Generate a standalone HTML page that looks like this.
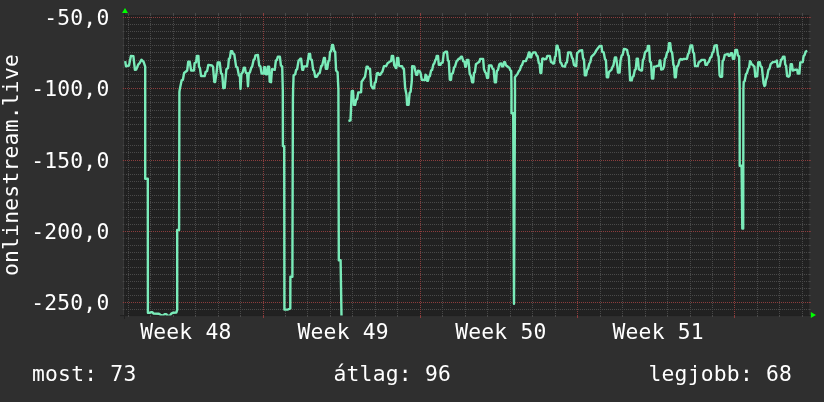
<!DOCTYPE html>
<html><head><meta charset="utf-8"><title>onlinestream.live</title>
<style>
html,body{margin:0;padding:0;background:#2f2f2f;}
body{width:824px;height:402px;overflow:hidden;}
svg{display:block}
text{font-family:"DejaVu Sans Mono","Liberation Mono",monospace;font-size:21.33px;letter-spacing:0.22px;fill:#ffffff;}
</style></head><body>
<svg width="824" height="402" viewBox="0 0 824 402">
<rect x="0" y="0" width="824" height="402" fill="#2f2f2f"/>
<rect x="124" y="15.1" width="685.2" height="300.4" fill="#212121"/>

<line x1="123.6" y1="15" x2="123.6" y2="315" stroke="#3a3a3a" stroke-width="1.1"/>
<line x1="120" y1="315.6" x2="812" y2="315.6" stroke="#212121" stroke-width="1"/>
<line x1="124.5" y1="319" x2="124.5" y2="12" stroke="#212121" stroke-width="1"/>
<g stroke="#494949" stroke-width="1" shape-rendering="crispEdges">
<line x1="122.7" y1="24.5" x2="124.4" y2="24.5" shape-rendering="auto"/><line x1="126" y1="24.5" x2="807" y2="24.5" stroke-dasharray="1 1"/><line x1="808.4" y1="24.5" x2="810.7" y2="24.5" shape-rendering="auto"/>
<line x1="122.7" y1="31.5" x2="124.4" y2="31.5" shape-rendering="auto"/><line x1="126" y1="31.5" x2="807" y2="31.5" stroke-dasharray="1 1"/><line x1="808.4" y1="31.5" x2="810.7" y2="31.5" shape-rendering="auto"/>
<line x1="122.7" y1="38.5" x2="124.4" y2="38.5" shape-rendering="auto"/><line x1="126" y1="38.5" x2="807" y2="38.5" stroke-dasharray="1 1"/><line x1="808.4" y1="38.5" x2="810.7" y2="38.5" shape-rendering="auto"/>
<line x1="122.7" y1="45.5" x2="124.4" y2="45.5" shape-rendering="auto"/><line x1="126" y1="45.5" x2="807" y2="45.5" stroke-dasharray="1 1"/><line x1="808.4" y1="45.5" x2="810.7" y2="45.5" shape-rendering="auto"/>
<line x1="122.7" y1="52.5" x2="124.4" y2="52.5" shape-rendering="auto"/><line x1="126" y1="52.5" x2="807" y2="52.5" stroke-dasharray="1 1"/><line x1="808.4" y1="52.5" x2="810.7" y2="52.5" shape-rendering="auto"/>
<line x1="122.7" y1="60.5" x2="124.4" y2="60.5" shape-rendering="auto"/><line x1="126" y1="60.5" x2="807" y2="60.5" stroke-dasharray="1 1"/><line x1="808.4" y1="60.5" x2="810.7" y2="60.5" shape-rendering="auto"/>
<line x1="122.7" y1="67.5" x2="124.4" y2="67.5" shape-rendering="auto"/><line x1="126" y1="67.5" x2="807" y2="67.5" stroke-dasharray="1 1"/><line x1="808.4" y1="67.5" x2="810.7" y2="67.5" shape-rendering="auto"/>
<line x1="122.7" y1="74.5" x2="124.4" y2="74.5" shape-rendering="auto"/><line x1="126" y1="74.5" x2="807" y2="74.5" stroke-dasharray="1 1"/><line x1="808.4" y1="74.5" x2="810.7" y2="74.5" shape-rendering="auto"/>
<line x1="122.7" y1="81.5" x2="124.4" y2="81.5" shape-rendering="auto"/><line x1="126" y1="81.5" x2="807" y2="81.5" stroke-dasharray="1 1"/><line x1="808.4" y1="81.5" x2="810.7" y2="81.5" shape-rendering="auto"/>
<line x1="122.7" y1="95.5" x2="124.4" y2="95.5" shape-rendering="auto"/><line x1="126" y1="95.5" x2="807" y2="95.5" stroke-dasharray="1 1"/><line x1="808.4" y1="95.5" x2="810.7" y2="95.5" shape-rendering="auto"/>
<line x1="122.7" y1="102.5" x2="124.4" y2="102.5" shape-rendering="auto"/><line x1="126" y1="102.5" x2="807" y2="102.5" stroke-dasharray="1 1"/><line x1="808.4" y1="102.5" x2="810.7" y2="102.5" shape-rendering="auto"/>
<line x1="122.7" y1="110.5" x2="124.4" y2="110.5" shape-rendering="auto"/><line x1="126" y1="110.5" x2="807" y2="110.5" stroke-dasharray="1 1"/><line x1="808.4" y1="110.5" x2="810.7" y2="110.5" shape-rendering="auto"/>
<line x1="122.7" y1="117.5" x2="124.4" y2="117.5" shape-rendering="auto"/><line x1="126" y1="117.5" x2="807" y2="117.5" stroke-dasharray="1 1"/><line x1="808.4" y1="117.5" x2="810.7" y2="117.5" shape-rendering="auto"/>
<line x1="122.7" y1="124.5" x2="124.4" y2="124.5" shape-rendering="auto"/><line x1="126" y1="124.5" x2="807" y2="124.5" stroke-dasharray="1 1"/><line x1="808.4" y1="124.5" x2="810.7" y2="124.5" shape-rendering="auto"/>
<line x1="122.7" y1="131.5" x2="124.4" y2="131.5" shape-rendering="auto"/><line x1="126" y1="131.5" x2="807" y2="131.5" stroke-dasharray="1 1"/><line x1="808.4" y1="131.5" x2="810.7" y2="131.5" shape-rendering="auto"/>
<line x1="122.7" y1="138.5" x2="124.4" y2="138.5" shape-rendering="auto"/><line x1="126" y1="138.5" x2="807" y2="138.5" stroke-dasharray="1 1"/><line x1="808.4" y1="138.5" x2="810.7" y2="138.5" shape-rendering="auto"/>
<line x1="122.7" y1="145.5" x2="124.4" y2="145.5" shape-rendering="auto"/><line x1="126" y1="145.5" x2="807" y2="145.5" stroke-dasharray="1 1"/><line x1="808.4" y1="145.5" x2="810.7" y2="145.5" shape-rendering="auto"/>
<line x1="122.7" y1="152.5" x2="124.4" y2="152.5" shape-rendering="auto"/><line x1="126" y1="152.5" x2="807" y2="152.5" stroke-dasharray="1 1"/><line x1="808.4" y1="152.5" x2="810.7" y2="152.5" shape-rendering="auto"/>
<line x1="122.7" y1="167.5" x2="124.4" y2="167.5" shape-rendering="auto"/><line x1="126" y1="167.5" x2="807" y2="167.5" stroke-dasharray="1 1"/><line x1="808.4" y1="167.5" x2="810.7" y2="167.5" shape-rendering="auto"/>
<line x1="122.7" y1="174.5" x2="124.4" y2="174.5" shape-rendering="auto"/><line x1="126" y1="174.5" x2="807" y2="174.5" stroke-dasharray="1 1"/><line x1="808.4" y1="174.5" x2="810.7" y2="174.5" shape-rendering="auto"/>
<line x1="122.7" y1="181.5" x2="124.4" y2="181.5" shape-rendering="auto"/><line x1="126" y1="181.5" x2="807" y2="181.5" stroke-dasharray="1 1"/><line x1="808.4" y1="181.5" x2="810.7" y2="181.5" shape-rendering="auto"/>
<line x1="122.7" y1="188.5" x2="124.4" y2="188.5" shape-rendering="auto"/><line x1="126" y1="188.5" x2="807" y2="188.5" stroke-dasharray="1 1"/><line x1="808.4" y1="188.5" x2="810.7" y2="188.5" shape-rendering="auto"/>
<line x1="122.7" y1="195.5" x2="124.4" y2="195.5" shape-rendering="auto"/><line x1="126" y1="195.5" x2="807" y2="195.5" stroke-dasharray="1 1"/><line x1="808.4" y1="195.5" x2="810.7" y2="195.5" shape-rendering="auto"/>
<line x1="122.7" y1="202.5" x2="124.4" y2="202.5" shape-rendering="auto"/><line x1="126" y1="202.5" x2="807" y2="202.5" stroke-dasharray="1 1"/><line x1="808.4" y1="202.5" x2="810.7" y2="202.5" shape-rendering="auto"/>
<line x1="122.7" y1="209.5" x2="124.4" y2="209.5" shape-rendering="auto"/><line x1="126" y1="209.5" x2="807" y2="209.5" stroke-dasharray="1 1"/><line x1="808.4" y1="209.5" x2="810.7" y2="209.5" shape-rendering="auto"/>
<line x1="122.7" y1="217.5" x2="124.4" y2="217.5" shape-rendering="auto"/><line x1="126" y1="217.5" x2="807" y2="217.5" stroke-dasharray="1 1"/><line x1="808.4" y1="217.5" x2="810.7" y2="217.5" shape-rendering="auto"/>
<line x1="122.7" y1="224.5" x2="124.4" y2="224.5" shape-rendering="auto"/><line x1="126" y1="224.5" x2="807" y2="224.5" stroke-dasharray="1 1"/><line x1="808.4" y1="224.5" x2="810.7" y2="224.5" shape-rendering="auto"/>
<line x1="122.7" y1="238.5" x2="124.4" y2="238.5" shape-rendering="auto"/><line x1="126" y1="238.5" x2="807" y2="238.5" stroke-dasharray="1 1"/><line x1="808.4" y1="238.5" x2="810.7" y2="238.5" shape-rendering="auto"/>
<line x1="122.7" y1="245.5" x2="124.4" y2="245.5" shape-rendering="auto"/><line x1="126" y1="245.5" x2="807" y2="245.5" stroke-dasharray="1 1"/><line x1="808.4" y1="245.5" x2="810.7" y2="245.5" shape-rendering="auto"/>
<line x1="122.7" y1="252.5" x2="124.4" y2="252.5" shape-rendering="auto"/><line x1="126" y1="252.5" x2="807" y2="252.5" stroke-dasharray="1 1"/><line x1="808.4" y1="252.5" x2="810.7" y2="252.5" shape-rendering="auto"/>
<line x1="122.7" y1="259.5" x2="124.4" y2="259.5" shape-rendering="auto"/><line x1="126" y1="259.5" x2="807" y2="259.5" stroke-dasharray="1 1"/><line x1="808.4" y1="259.5" x2="810.7" y2="259.5" shape-rendering="auto"/>
<line x1="122.7" y1="267.5" x2="124.4" y2="267.5" shape-rendering="auto"/><line x1="126" y1="267.5" x2="807" y2="267.5" stroke-dasharray="1 1"/><line x1="808.4" y1="267.5" x2="810.7" y2="267.5" shape-rendering="auto"/>
<line x1="122.7" y1="274.5" x2="124.4" y2="274.5" shape-rendering="auto"/><line x1="126" y1="274.5" x2="807" y2="274.5" stroke-dasharray="1 1"/><line x1="808.4" y1="274.5" x2="810.7" y2="274.5" shape-rendering="auto"/>
<line x1="122.7" y1="281.5" x2="124.4" y2="281.5" shape-rendering="auto"/><line x1="126" y1="281.5" x2="807" y2="281.5" stroke-dasharray="1 1"/><line x1="808.4" y1="281.5" x2="810.7" y2="281.5" shape-rendering="auto"/>
<line x1="122.7" y1="288.5" x2="124.4" y2="288.5" shape-rendering="auto"/><line x1="126" y1="288.5" x2="807" y2="288.5" stroke-dasharray="1 1"/><line x1="808.4" y1="288.5" x2="810.7" y2="288.5" shape-rendering="auto"/>
<line x1="122.7" y1="295.5" x2="124.4" y2="295.5" shape-rendering="auto"/><line x1="126" y1="295.5" x2="807" y2="295.5" stroke-dasharray="1 1"/><line x1="808.4" y1="295.5" x2="810.7" y2="295.5" shape-rendering="auto"/>
<line x1="122.7" y1="309.5" x2="124.4" y2="309.5" shape-rendering="auto"/><line x1="126" y1="309.5" x2="807" y2="309.5" stroke-dasharray="1 1"/><line x1="808.4" y1="309.5" x2="810.7" y2="309.5" shape-rendering="auto"/>
<line x1="128.5" y1="13" x2="128.5" y2="16"/><line x1="128.5" y1="17" x2="128.5" y2="315" stroke-dasharray="1 1"/><line x1="128.5" y1="315" x2="128.5" y2="317"/>
<line x1="150.5" y1="13" x2="150.5" y2="16"/><line x1="150.5" y1="17" x2="150.5" y2="315" stroke-dasharray="1 1"/><line x1="150.5" y1="315" x2="150.5" y2="317"/>
<line x1="173.5" y1="13" x2="173.5" y2="16"/><line x1="173.5" y1="17" x2="173.5" y2="315" stroke-dasharray="1 1"/><line x1="173.5" y1="315" x2="173.5" y2="317"/>
<line x1="195.5" y1="13" x2="195.5" y2="16"/><line x1="195.5" y1="17" x2="195.5" y2="315" stroke-dasharray="1 1"/><line x1="195.5" y1="315" x2="195.5" y2="317"/>
<line x1="218.5" y1="13" x2="218.5" y2="16"/><line x1="218.5" y1="17" x2="218.5" y2="315" stroke-dasharray="1 1"/><line x1="218.5" y1="315" x2="218.5" y2="317"/>
<line x1="240.5" y1="13" x2="240.5" y2="16"/><line x1="240.5" y1="17" x2="240.5" y2="315" stroke-dasharray="1 1"/><line x1="240.5" y1="315" x2="240.5" y2="317"/>
<line x1="285.5" y1="13" x2="285.5" y2="16"/><line x1="285.5" y1="17" x2="285.5" y2="315" stroke-dasharray="1 1"/><line x1="285.5" y1="315" x2="285.5" y2="317"/>
<line x1="307.5" y1="13" x2="307.5" y2="16"/><line x1="307.5" y1="17" x2="307.5" y2="315" stroke-dasharray="1 1"/><line x1="307.5" y1="315" x2="307.5" y2="317"/>
<line x1="330.5" y1="13" x2="330.5" y2="16"/><line x1="330.5" y1="17" x2="330.5" y2="315" stroke-dasharray="1 1"/><line x1="330.5" y1="315" x2="330.5" y2="317"/>
<line x1="352.5" y1="13" x2="352.5" y2="16"/><line x1="352.5" y1="17" x2="352.5" y2="315" stroke-dasharray="1 1"/><line x1="352.5" y1="315" x2="352.5" y2="317"/>
<line x1="375.5" y1="13" x2="375.5" y2="16"/><line x1="375.5" y1="17" x2="375.5" y2="315" stroke-dasharray="1 1"/><line x1="375.5" y1="315" x2="375.5" y2="317"/>
<line x1="397.5" y1="13" x2="397.5" y2="16"/><line x1="397.5" y1="17" x2="397.5" y2="315" stroke-dasharray="1 1"/><line x1="397.5" y1="315" x2="397.5" y2="317"/>
<line x1="442.5" y1="13" x2="442.5" y2="16"/><line x1="442.5" y1="17" x2="442.5" y2="315" stroke-dasharray="1 1"/><line x1="442.5" y1="315" x2="442.5" y2="317"/>
<line x1="465.5" y1="13" x2="465.5" y2="16"/><line x1="465.5" y1="17" x2="465.5" y2="315" stroke-dasharray="1 1"/><line x1="465.5" y1="315" x2="465.5" y2="317"/>
<line x1="487.5" y1="13" x2="487.5" y2="16"/><line x1="487.5" y1="17" x2="487.5" y2="315" stroke-dasharray="1 1"/><line x1="487.5" y1="315" x2="487.5" y2="317"/>
<line x1="510.5" y1="13" x2="510.5" y2="16"/><line x1="510.5" y1="17" x2="510.5" y2="315" stroke-dasharray="1 1"/><line x1="510.5" y1="315" x2="510.5" y2="317"/>
<line x1="532.5" y1="13" x2="532.5" y2="16"/><line x1="532.5" y1="17" x2="532.5" y2="315" stroke-dasharray="1 1"/><line x1="532.5" y1="315" x2="532.5" y2="317"/>
<line x1="555.5" y1="13" x2="555.5" y2="16"/><line x1="555.5" y1="17" x2="555.5" y2="315" stroke-dasharray="1 1"/><line x1="555.5" y1="315" x2="555.5" y2="317"/>
<line x1="600.5" y1="13" x2="600.5" y2="16"/><line x1="600.5" y1="17" x2="600.5" y2="315" stroke-dasharray="1 1"/><line x1="600.5" y1="315" x2="600.5" y2="317"/>
<line x1="622.5" y1="13" x2="622.5" y2="16"/><line x1="622.5" y1="17" x2="622.5" y2="315" stroke-dasharray="1 1"/><line x1="622.5" y1="315" x2="622.5" y2="317"/>
<line x1="645.5" y1="13" x2="645.5" y2="16"/><line x1="645.5" y1="17" x2="645.5" y2="315" stroke-dasharray="1 1"/><line x1="645.5" y1="315" x2="645.5" y2="317"/>
<line x1="667.5" y1="13" x2="667.5" y2="16"/><line x1="667.5" y1="17" x2="667.5" y2="315" stroke-dasharray="1 1"/><line x1="667.5" y1="315" x2="667.5" y2="317"/>
<line x1="690.5" y1="13" x2="690.5" y2="16"/><line x1="690.5" y1="17" x2="690.5" y2="315" stroke-dasharray="1 1"/><line x1="690.5" y1="315" x2="690.5" y2="317"/>
<line x1="712.5" y1="13" x2="712.5" y2="16"/><line x1="712.5" y1="17" x2="712.5" y2="315" stroke-dasharray="1 1"/><line x1="712.5" y1="315" x2="712.5" y2="317"/>
<line x1="757.5" y1="13" x2="757.5" y2="16"/><line x1="757.5" y1="17" x2="757.5" y2="315" stroke-dasharray="1 1"/><line x1="757.5" y1="315" x2="757.5" y2="317"/>
<line x1="779.5" y1="13" x2="779.5" y2="16"/><line x1="779.5" y1="17" x2="779.5" y2="315" stroke-dasharray="1 1"/><line x1="779.5" y1="315" x2="779.5" y2="317"/>
<line x1="802.5" y1="13" x2="802.5" y2="16"/><line x1="802.5" y1="17" x2="802.5" y2="315" stroke-dasharray="1 1"/><line x1="802.5" y1="315" x2="802.5" y2="317"/>
</g>
<g stroke="#8c3d3d" stroke-width="1" shape-rendering="crispEdges">
<line x1="123" y1="17.5" x2="808" y2="17.5" stroke-dasharray="1 1"/><line x1="122.8" y1="17.5" x2="124.2" y2="17.5" shape-rendering="auto" stroke-opacity="0.6"/><line x1="808.8" y1="17.5" x2="810.8" y2="17.5" shape-rendering="auto"/>
<line x1="123" y1="88.5" x2="808" y2="88.5" stroke-dasharray="1 1"/><line x1="122.8" y1="88.5" x2="124.2" y2="88.5" shape-rendering="auto" stroke-opacity="0.6"/><line x1="808.8" y1="88.5" x2="810.8" y2="88.5" shape-rendering="auto"/>
<line x1="123" y1="160.5" x2="808" y2="160.5" stroke-dasharray="1 1"/><line x1="122.8" y1="160.5" x2="124.2" y2="160.5" shape-rendering="auto" stroke-opacity="0.6"/><line x1="808.8" y1="160.5" x2="810.8" y2="160.5" shape-rendering="auto"/>
<line x1="123" y1="231.5" x2="808" y2="231.5" stroke-dasharray="1 1"/><line x1="122.8" y1="231.5" x2="124.2" y2="231.5" shape-rendering="auto" stroke-opacity="0.6"/><line x1="808.8" y1="231.5" x2="810.8" y2="231.5" shape-rendering="auto"/>
<line x1="123" y1="302.5" x2="808" y2="302.5" stroke-dasharray="1 1"/><line x1="122.8" y1="302.5" x2="124.2" y2="302.5" shape-rendering="auto" stroke-opacity="0.6"/><line x1="808.8" y1="302.5" x2="810.8" y2="302.5" shape-rendering="auto"/>
<line x1="263.5" y1="13" x2="263.5" y2="16"/><line x1="263.5" y1="17" x2="263.5" y2="315" stroke-dasharray="1 1"/><line x1="263.5" y1="315" x2="263.5" y2="318"/>
<line x1="420.5" y1="13" x2="420.5" y2="16"/><line x1="420.5" y1="17" x2="420.5" y2="315" stroke-dasharray="1 1"/><line x1="420.5" y1="315" x2="420.5" y2="318"/>
<line x1="577.5" y1="13" x2="577.5" y2="16"/><line x1="577.5" y1="17" x2="577.5" y2="315" stroke-dasharray="1 1"/><line x1="577.5" y1="315" x2="577.5" y2="318"/>
<line x1="734.5" y1="13" x2="734.5" y2="16"/><line x1="734.5" y1="17" x2="734.5" y2="315" stroke-dasharray="1 1"/><line x1="734.5" y1="315" x2="734.5" y2="318"/>
</g>
<text x="44.20" y="25.2">-50,0</text>
<text x="31.14" y="96.2">-100,0</text>
<text x="31.14" y="168.2">-150,0</text>
<text x="31.14" y="239.2">-200,0</text>
<text x="31.14" y="310.2">-250,0</text>
<text x="140.2" y="338.5">Week 48</text>
<text x="297.5" y="338.5">Week 49</text>
<text x="455.2" y="338.5">Week 50</text>
<text x="612.5" y="338.5">Week 51</text>
<text transform="translate(18.2,276) rotate(-90)">onlinestream.live</text>
<text x="32" y="381">most: 73</text>
<text x="333.5" y="381">átlag: 96</text>
<text x="648.5" y="381">legjobb: 68</text>
<polygon points="122,13 128,13 125,8" fill="#00ff00"/>
<polygon points="810.8,312 810.8,318 816,314.9" fill="#00ff00"/>
<clipPath id="c"><rect x="124" y="15.1" width="685.2" height="300.4"/></clipPath>
<path clip-path="url(#c)" d="M125.2,61.1 L126.0,66.4 L129.0,65.5 L130.9,55.9 L133.4,56.2 L134.9,69.9 L136.2,69.6 L138.4,64.3 L139.7,63.0 L141.4,59.7 L143.6,61.8 L145.2,66.7 L145.2,178.7 L147.8,178.7 L147.9,312.8 L149.5,312.8 L150.9,312.3 L152.4,312.3 L153.4,313.6 L158.9,313.8 L160.4,314.8 L162.9,315.6 L164.4,314.3 L166.4,314.3 L167.4,315.6 L169.9,315.6 L171.3,313.6 L172.8,312.8 L176.3,312.6 L177.2,309.9 L177.2,230.0 L179.1,230.0 L179.4,92.0 L179.7,89.8 L181.6,80.4 L182.9,79.8 L184.1,73.0 L187.2,70.5 L188.2,61.8 L189.7,61.8 L191.1,70.5 L194.0,70.5 L194.6,63.0 L196.1,62.4 L196.9,55.9 L198.4,55.9 L199.0,66.7 L199.9,68.0 L201.1,76.1 L204.6,76.1 L205.6,72.1 L207.1,71.1 L208.3,64.9 L212.0,65.5 L213.0,66.7 L214.3,82.0 L215.1,82.0 L216.5,73.0 L217.7,62.4 L219.7,62.4 L221.0,73.3 L222.2,74.2 L223.3,88.2 L224.7,87.8 L226.4,69.2 L228.1,68.0 L228.9,58.7 L229.9,58.0 L230.9,51.2 L232.2,51.2 L233.0,53.7 L234.3,54.3 L236.1,66.7 L237.4,67.6 L238.9,75.4 L239.9,76.1 L240.5,89.0 L241.4,73.6 L242.6,72.6 L243.9,67.6 L244.9,67.6 L245.8,72.6 L247.1,73.3 L248.0,86.3 L248.8,73.3 L249.8,72.6 L251.3,67.6 L252.1,66.7 L253.6,59.9 L254.6,59.3 L255.4,55.5 L257.9,54.9 L259.2,65.5 L260.4,66.4 L261.6,73.6 L263.8,73.6 L264.1,67.1 L265.0,67.1 L265.7,74.2 L267.2,74.2 L267.9,66.7 L269.1,66.7 L269.7,81.7 L271.0,82.2 L272.0,69.2 L274.7,69.9 L275.9,60.5 L276.9,59.9 L277.8,56.8 L279.9,56.8 L280.9,65.5 L282.2,66.4 L282.8,89.8 L282.9,146.1 L284.2,146.1 L284.4,309.6 L288.0,309.5 L290.3,308.4 L290.4,276.7 L292.4,276.7 L292.9,100.0 L293.1,89.8 L293.6,75.4 L295.2,74.2 L296.1,69.9 L297.1,69.2 L298.6,60.5 L299.6,59.9 L300.2,58.7 L301.1,58.7 L302.3,69.9 L303.1,69.9 L303.9,66.4 L307.0,66.4 L308.9,53.9 L310.1,53.9 L310.6,59.3 L311.9,59.9 L313.1,69.9 L314.0,70.5 L315.2,76.7 L316.8,76.7 L318.5,73.6 L319.7,73.0 L321.2,66.1 L322.2,65.5 L323.9,58.0 L324.9,58.0 L325.9,68.9 L327.2,68.9 L328.4,61.1 L329.3,60.5 L330.1,51.8 L331.1,51.2 L332.1,45.0 L333.0,45.0 L334.3,51.2 L335.2,51.8 L336.1,70.5 L337.6,72.3 L338.4,89.8 L338.8,260.3 L340.6,260.3 L341.5,316.5 M348.4,121.0 L350.5,120.4 L351.7,91.2 L353.0,90.9 L353.9,104.9 L355.1,104.9 L356.1,99.9 L357.1,99.3 L358.3,92.4 L361.1,92.2 L361.6,81.7 L362.9,80.0 L363.7,78.6 L365.0,76.7 L366.6,66.7 L367.8,66.7 L368.7,68.6 L370.0,68.9 L371.2,85.6 L372.9,88.3 L374.1,88.3 L374.7,82.9 L375.7,82.3 L376.9,73.3 L378.2,73.0 L379.0,74.8 L380.3,74.8 L381.5,72.6 L382.4,71.7 L384.0,66.1 L386.1,66.1 L387.7,63.0 L388.6,62.6 L390.2,61.4 L391.1,61.1 L391.8,55.9 L393.1,55.9 L394.3,65.5 L394.9,66.1 L395.8,68.0 L396.4,68.0 L397.1,58.0 L398.3,58.0 L398.9,65.5 L399.8,66.1 L402.0,66.1 L403.0,68.4 L403.9,68.9 L405.1,87.3 L405.8,91.2 L406.5,94.9 L407.1,104.9 L408.6,104.9 L409.6,93.1 L410.6,91.8 L411.8,81.2 L412.2,66.1 L414.3,66.4 L416.2,74.8 L417.2,74.8 L418.1,70.8 L419.7,71.1 L420.5,73.0 L421.8,79.8 L424.9,80.0 L425.5,74.8 L426.4,75.4 L427.1,80.8 L428.0,80.8 L428.9,76.7 L429.9,76.1 L431.1,70.5 L432.1,69.9 L433.4,64.3 L434.2,63.6 L435.5,59.7 L436.1,59.3 L436.7,55.9 L438.0,55.9 L438.8,64.9 L440.4,64.9 L441.3,63.0 L442.6,62.6 L443.8,53.1 L444.8,52.4 L445.4,51.8 L447.0,51.8 L447.9,60.5 L448.8,61.1 L449.8,79.8 L451.0,79.8 L451.6,74.2 L452.9,73.0 L454.1,67.4 L455.0,66.7 L456.6,61.1 L457.5,60.5 L458.7,58.7 L459.7,58.7 L461.0,56.8 L462.0,56.8 L463.2,61.1 L464.5,61.8 L465.3,66.7 L465.9,66.7 L466.9,59.9 L468.4,59.9 L469.7,73.6 L470.3,74.8 L470.9,76.1 L472.2,82.3 L473.2,82.3 L474.0,73.0 L474.9,72.3 L475.9,64.3 L477.1,63.4 L478.4,62.4 L479.4,61.8 L480.2,58.9 L483.1,58.9 L484.0,69.2 L485.2,72.3 L486.1,73.3 L487.1,77.9 L488.1,77.9 L489.0,65.5 L491.4,65.5 L492.7,68.9 L493.6,69.2 L494.8,82.3 L496.0,82.3 L496.8,71.1 L498.0,69.9 L499.3,64.3 L500.1,63.6 L501.2,63.4 L501.9,66.4 L503.1,66.4 L504.0,62.1 L505.0,62.1 L506.0,65.5 L507.2,66.1 L508.5,67.4 L509.3,67.6 L510.2,69.9 L511.2,71.1 L511.5,89.8 L511.5,113.3 L513.2,113.3 L514.0,303.7 L515.0,90.0 L514.9,77.3 L516.8,74.8 L517.7,73.6 L518.9,71.1 L519.9,69.9 L521.1,66.1 L522.1,64.9 L523.4,61.1 L525.9,61.1 L526.7,58.7 L527.6,57.4 L528.9,52.4 L529.6,52.4 L530.1,57.4 L531.1,57.4 L532.1,53.9 L533.3,52.4 L535.4,52.4 L536.7,55.5 L537.6,56.2 L538.8,63.0 L539.6,63.6 L540.4,73.0 L541.3,73.0 L542.3,58.7 L543.3,58.4 L544.5,59.3 L546.3,58.9 L547.3,55.9 L549.8,55.9 L551.0,62.1 L552.0,62.4 L553.2,63.6 L554.1,63.4 L555.0,56.8 L555.7,56.2 L556.6,45.6 L557.5,45.6 L558.2,49.3 L559.1,50.0 L560.3,62.4 L561.2,63.0 L562.4,66.1 L564.9,66.7 L565.9,63.0 L566.9,62.4 L568.2,52.4 L570.6,52.4 L572.1,58.0 L572.8,58.7 L574.0,64.9 L574.9,65.5 L575.6,66.1 L576.2,66.1 L577.1,53.1 L578.1,52.4 L579.6,50.6 L582.1,50.2 L583.1,58.7 L584.0,59.3 L584.8,75.4 L586.1,75.4 L587.1,69.9 L588.1,68.6 L589.3,63.6 L590.2,62.4 L591.4,56.8 L592.3,55.9 L593.9,54.3 L594.8,53.1 L596.2,50.6 L598.1,48.1 L599.7,46.0 L601.5,46.0 L602.2,51.8 L603.7,52.4 L605.0,59.3 L605.9,59.9 L606.8,77.3 L608.1,77.3 L608.9,72.1 L609.9,71.1 L611.4,69.9 L612.4,67.1 L613.4,65.5 L614.9,57.4 L616.1,57.4 L617.4,66.7 L618.0,72.6 L619.6,72.6 L620.5,60.5 L621.7,55.5 L622.6,54.9 L623.9,49.0 L625.8,49.3 L627.1,50.0 L628.0,54.9 L628.8,55.9 L630.1,80.4 L631.7,80.4 L632.6,76.7 L633.6,76.1 L634.8,69.9 L635.8,69.2 L636.7,58.7 L637.9,58.7 L638.8,69.2 L640.0,69.9 L641.0,70.5 L642.0,70.5 L642.9,59.9 L643.8,58.7 L645.0,52.4 L646.0,51.2 L647.2,50.6 L647.9,46.0 L649.1,46.0 L650.0,61.8 L651.0,62.4 L652.0,78.6 L653.2,78.6 L654.1,66.7 L656.2,66.4 L657.2,65.9 L659.1,65.5 L659.7,60.5 L660.3,60.5 L661.2,69.6 L662.8,69.2 L664.0,66.7 L664.9,58.7 L665.9,57.4 L667.1,52.4 L668.1,51.8 L669.0,43.1 L670.2,43.1 L671.1,51.2 L672.1,52.4 L673.4,64.9 L674.0,65.5 L674.8,77.3 L675.8,77.3 L676.8,66.7 L678.1,65.5 L679.6,59.9 L680.8,58.9 L682.1,59.7 L683.9,58.9 L687.0,58.7 L688.0,54.3 L688.9,53.1 L690.5,45.4 L692.2,45.4 L693.1,52.4 L694.0,53.1 L695.0,66.1 L697.7,66.1 L698.7,62.4 L700.6,61.1 L701.4,59.9 L704.7,59.9 L705.5,64.9 L706.8,64.9 L708.0,62.4 L708.9,61.8 L710.1,58.0 L711.4,56.8 L712.6,52.4 L713.4,51.8 L714.6,45.6 L716.7,45.2 L718.0,55.5 L718.6,56.2 L719.6,75.4 L720.5,76.7 L722.1,76.7 L722.6,61.1 L723.6,59.9 L724.8,54.9 L726.7,54.3 L727.9,53.9 L728.8,55.9 L729.8,55.9 L730.8,53.1 L732.0,53.1 L732.9,58.7 L734.2,58.9 L735.4,50.0 L737.0,50.0 L737.9,55.5 L739.1,56.2 L739.7,89.8 L739.7,165.7 L741.6,165.7 L742.3,228.5 L743.2,228.5 L743.4,89.8 L743.7,82.3 L744.7,81.0 L746.0,74.2 L747.0,73.0 L748.2,68.6 L749.1,67.4 L750.0,61.1 L750.7,61.8 L751.6,64.3 L752.8,64.9 L753.7,66.1 L754.4,66.7 L755.3,76.7 L757.2,76.1 L758.2,62.4 L759.7,62.1 L760.6,66.1 L761.9,67.4 L762.8,76.1 L763.6,83.5 L764.4,86.0 L765.2,85.4 L766.1,79.8 L767.1,77.3 L768.4,69.9 L769.6,68.6 L770.6,64.3 L771.8,63.0 L773.1,62.1 L775.8,61.8 L776.8,60.5 L777.7,66.7 L778.9,66.4 L779.8,65.9 L781.0,59.9 L782.0,59.3 L783.0,56.8 L784.5,56.8 L785.2,64.3 L786.1,65.8 L787.1,76.1 L788.6,76.7 L789.7,75.4 L790.7,64.2 L791.9,64.2 L792.8,70.5 L794.7,69.8 L797.2,69.8 L797.8,73.6 L799.4,73.6 L800.3,62.4 L802.7,62.1 L803.6,56.2 L804.6,54.9 L805.6,51.8 L806.5,51.2 L807.3,50.9" fill="none" stroke="#7aebb9" stroke-width="2.4" stroke-linejoin="round" stroke-linecap="butt"/>
</svg></body></html>
